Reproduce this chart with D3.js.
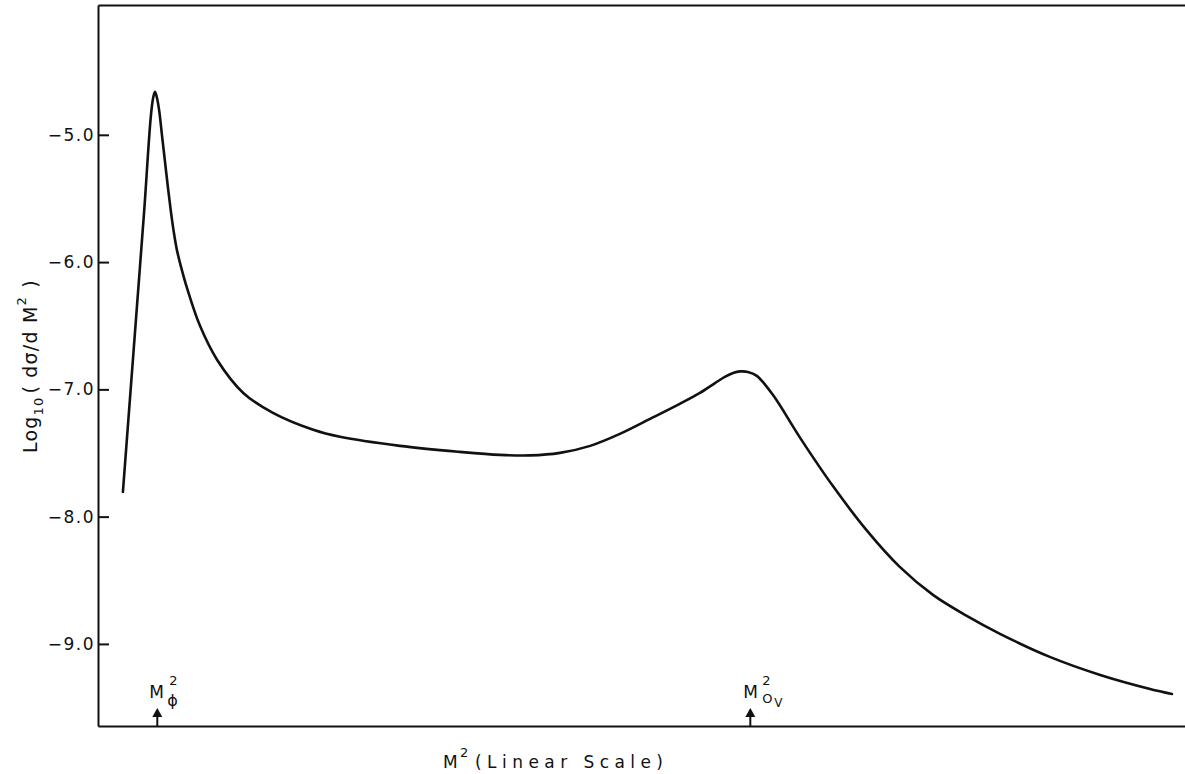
<!DOCTYPE html>
<html>
<head>
<meta charset="utf-8">
<script src="https://cdn.jsdelivr.net/npm/d3@7"></script>
<style>
  html, body { margin: 0; padding: 0; background: #fff; }
  svg { display: block; }
  text { font-family: "DejaVu Sans", "Liberation Sans", sans-serif; fill: #111; }
</style>
</head>
<body>
<svg id="chart" width="1185" height="774"></svg>
<script>
// M^2 in arbitrary linear units (M_phi^2 = 1, M_0V^2 = 11)
const m2 = [0.42, 0.54, 0.66, 0.78, 0.89, 0.93, 0.96, 0.99, 1.03, 1.08, 1.13, 1.18, 1.23, 1.28, 1.33, 1.40, 1.50, 1.72, 2.01, 2.45, 2.95, 3.63, 4.08, 5.09, 6.10, 6.78, 7.29, 7.79, 8.30, 8.80, 9.31, 9.81, 10.15, 10.41, 10.57, 10.71, 10.83, 10.96, 11.11, 11.38, 11.84, 12.39, 12.97, 13.52, 14.08, 14.65, 15.21, 16.05, 16.90, 17.74, 18.11];
const logSigma = [-7.806, -7.067, -6.328, -5.589, -4.859, -4.709, -4.662, -4.701, -4.804, -5.008, -5.212, -5.417, -5.605, -5.77, -5.904, -6.037, -6.202, -6.501, -6.769, -7.028, -7.185, -7.318, -7.373, -7.444, -7.491, -7.515, -7.519, -7.499, -7.444, -7.35, -7.232, -7.114, -7.028, -6.949, -6.902, -6.871, -6.859, -6.863, -6.894, -7.043, -7.381, -7.758, -8.112, -8.395, -8.615, -8.78, -8.921, -9.102, -9.244, -9.354, -9.393];
const yTicks = [-5, -6, -7, -8, -9];
const markers = [
  { name: "phi", m2: 1.0 },
  { name: "0V", m2: 11.0 }
];

const svg = d3.select("#chart");
const x = d3.scaleLinear().domain([0, 18.33]).range([98, 1185]);
const y = d3.scaleLinear().domain([-9.645, -3.98]).range([726, 5]);

// axes
const yAxis = d3.axisLeft(y).tickValues(yTicks).tickFormat(d3.format(".1f"))
  .tickSizeInner(-11).tickSizeOuter(0).tickPadding(3);
const gy = svg.append("g").attr("transform", `translate(${x(0)},0)`).call(yAxis);
gy.select(".domain").attr("stroke", "#111").attr("stroke-width", 2);
gy.selectAll(".tick line").attr("stroke", "#111").attr("stroke-width", 2);
gy.selectAll(".tick text").attr("font-size", 17).attr("letter-spacing", 1.5).attr("fill", "#111")
  .attr("font-family", "DejaVu Sans");

const xAxis = d3.axisBottom(x).tickValues([]).tickSizeOuter(0);
const gx = svg.append("g").attr("transform", `translate(0,${y(-9.645)})`).call(xAxis);
gx.select(".domain").attr("stroke", "#111").attr("stroke-width", 2);

const xTop = d3.axisTop(x).tickValues([]).tickSizeOuter(0);
const gt = svg.append("g").attr("transform", `translate(0,${y(-3.98)})`).call(xTop);
gt.select(".domain").attr("stroke", "#111").attr("stroke-width", 2);

// curve
const data = m2.map((d, i) => ({ x: d, y: logSigma[i] }));
const line = d3.line().x(d => x(d.x)).y(d => y(d.y)).curve(d3.curveCatmullRom.alpha(0.5));
svg.append("path").datum(data).attr("d", line)
  .attr("fill", "none").attr("stroke", "#111").attr("stroke-width", 2.6)
  .attr("stroke-linejoin", "round").attr("stroke-linecap", "round");

// marker arrows
const yb = y(-9.645);
markers.forEach(m => {
  const cx = x(m.m2);
  svg.append("path")
    .attr("d", `M${cx - 5},${yb - 9} L${cx},${yb - 18} L${cx + 5},${yb - 9} Z`)
    .attr("fill", "#111");
  svg.append("line").attr("x1", cx).attr("x2", cx).attr("y1", yb - 10).attr("y2", yb)
    .attr("stroke", "#111").attr("stroke-width", 2);
});

// marker labels
const cphi = x(1.0);
const lp = svg.append("g");
lp.append("text").attr("x", cphi - 8).attr("y", 698).attr("font-size", 17).text("M");
lp.append("text").attr("x", cphi + 12).attr("y", 685).attr("font-size", 13).text("2");
lp.append("text").attr("x", cphi + 10).attr("y", 706).attr("font-size", 16).text("ϕ");

const cv = x(11.0);
const lv = svg.append("g");
lv.append("text").attr("x", cv - 7).attr("y", 698).attr("font-size", 17).text("M");
lv.append("text").attr("x", cv + 12).attr("y", 685).attr("font-size", 13).text("2");
lv.append("text").attr("x", cv + 12).attr("y", 703).attr("font-size", 13).text("O");
lv.append("text").attr("x", cv + 24).attr("y", 707).attr("font-size", 12).text("V");

// x axis label
const xl = svg.append("g");
xl.append("text").attr("x", 443).attr("y", 768).attr("font-size", 17).text("M");
xl.append("text").attr("x", 460).attr("y", 757).attr("font-size", 13).text("2");
xl.append("text").attr("x", 475).attr("y", 768).attr("font-size", 17)
  .attr("textLength", 188).attr("lengthAdjust", "spacing").text("(Linear Scale)");

// y axis label
const yl = svg.append("text").attr("transform", "translate(37,453) rotate(-90)")
  .attr("font-size", 19).attr("letter-spacing", 1.2);
yl.append("tspan").text("Log");
yl.append("tspan").attr("font-size", 13).attr("dy", 6).text("10");
yl.append("tspan").attr("dy", -6).attr("dx", 3).text("( dσ/d M");
yl.append("tspan").attr("font-size", 13).attr("dy", -11).text("2");
yl.append("tspan").attr("dy", 11).attr("dx", 1).text(" )");
</script>
</body>
</html>
